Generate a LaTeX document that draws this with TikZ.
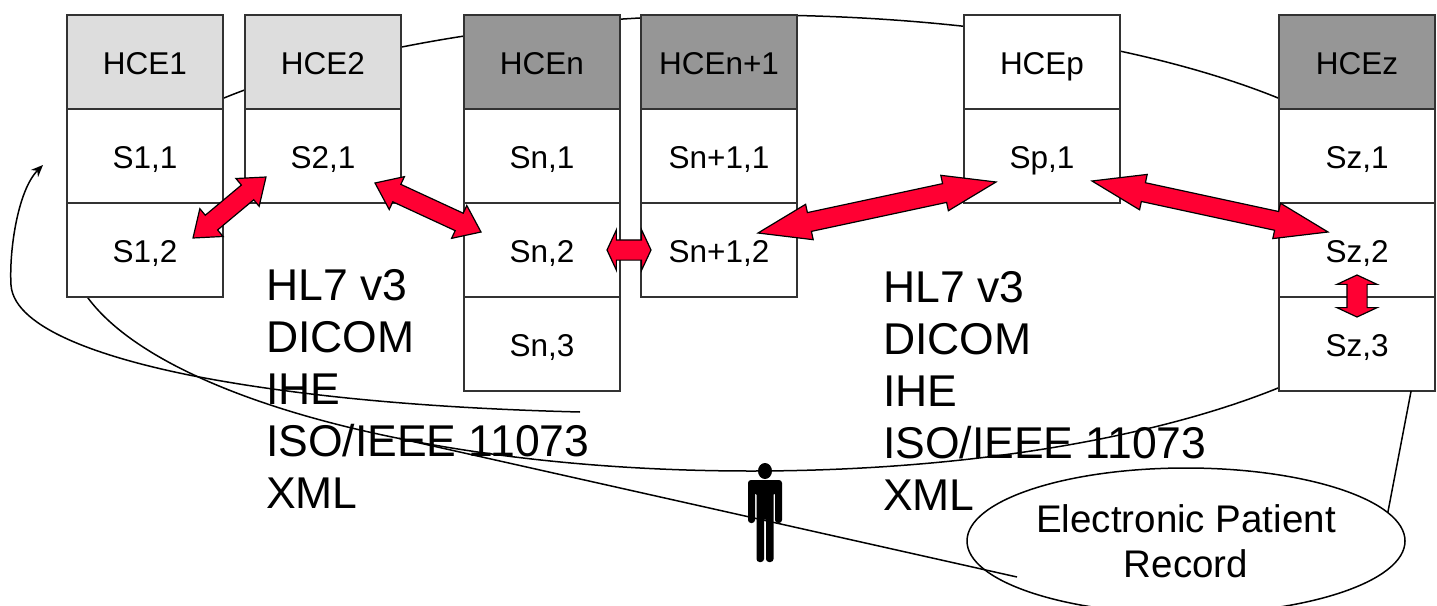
\documentclass[tikz,border=0pt]{standalone}
\usepackage{fontspec}
\setmainfont{Liberation Sans}
\usetikzlibrary{positioning,arrows.meta,calc,shapes.geometric,shapes.arrows}
\definecolor{HceLight}{RGB}{221,221,221}
\definecolor{HceDark}{RGB}{150,150,150}
\definecolor{LinkRed}{RGB}{255,0,51}
\definecolor{BoxLine}{RGB}{50,50,50}
\tikzset{
  wire/.style={draw=black,line width=1.5pt},
  slotbox/.style={draw=BoxLine,line width=1.3pt,fill=white,minimum width=156pt,minimum height=94pt,
    inner sep=0pt,outer sep=0pt,align=center,text height=25pt,text depth=0pt,font=\fontsize{31.5}{38}\selectfont},
  lightbox/.style={slotbox,fill=HceLight},
  darkbox/.style={slotbox,fill=HceDark},
  bigtext/.style={anchor=north west,inner sep=0pt,align=left,font=\fontsize{44.5}{52}\selectfont},
  redlink/.style={double arrow,draw=black,line width=1.2pt,fill=LinkRed,inner xsep=0pt,inner ysep=9pt,outer sep=0pt},
  longlink/.style={redlink,double arrow head extend=8.5pt,double arrow tip angle=38},
  shortlink/.style={redlink,double arrow head extend=8.5pt,double arrow tip angle=74},
  stublink/.style={redlink,inner ysep=9.5pt,double arrow head extend=10pt,double arrow tip angle=130}
}
\newcommand{\redarrow}[4]{\path let \p1=($(#4)-(#3)$),\n1={atan2(\y1,\x1)},\n2={veclen(\x1,\y1)} in
  node[#1,minimum height=\n2,rotate=\n1] (#2) at ($(#3)!.5!(#4)$) {};}
\begin{document}
\begin{tikzpicture}[x=1pt,y=-1pt]
  \useasboundingbox (0,0) rectangle (1437,605);
  \node[ellipse,wire,minimum width=1366pt,minimum height=456pt,inner sep=0pt,outer sep=0pt] (oval) at (751,243) {};
  % columns
  \node[lightbox] (hce1) at (145,62) {HCE1};
  \node[slotbox,below=0pt of hce1] (s11) {S1,1};
  \node[slotbox,below=0pt of s11] (s12) {S1,2};
  \node[lightbox,right=22pt of hce1] (hce2) {HCE2};
  \node[slotbox,below=0pt of hce2] (s21) {S2,1};
  \node[darkbox,right=63pt of hce2] (hcen) {HCEn};
  \node[slotbox,below=0pt of hcen] (sn1) {Sn,1};
  \node[slotbox,below=0pt of sn1] (sn2) {Sn,2};
  \node[slotbox,below=0pt of sn2] (sn3) {Sn,3};
  \node[darkbox,right=21pt of hcen] (hcem) {HCEn+1};
  \node[slotbox,below=0pt of hcem] (sm1) {Sn+1,1};
  \node[slotbox,below=0pt of sm1] (sm2) {Sn+1,2};
  \node[slotbox,right=167pt of hcem] (hcep) {HCEp};
  \node[slotbox,below=0pt of hcep] (sp1) {Sp,1};
  \node[darkbox,right=159pt of hcep] (hcez) {HCEz};
  \node[slotbox,below=0pt of hcez] (sz1) {Sz,1};
  \node[slotbox,below=0pt of sz1] (sz2) {Sz,2};
  \node[slotbox,below=0pt of sz2] (sz3) {Sz,3};
  % standards
  \node[bigtext] (stdleft) at (266,269) {HL7 v3\\DICOM\\IHE\\ISO/IEEE 11073\\XML};
  \node[bigtext] (stdright) at (883,271.5) {HL7 v3\\DICOM\\IHE\\ISO/IEEE 11073\\XML};
  % record
  \node[ellipse,wire,minimum width=438pt,minimum height=146pt,inner sep=0pt,outer sep=0pt,align=center,
    font=\fontsize{38.5}{45}\selectfont] (epr) at (1186,541) {Electronic Patient\\Record};
  \coordinate (eprend) at (1017,577);
  \coordinate (loopend) at (580,412);
  \coordinate (loopmid) at (189,375);
  \coordinate (loopbend) at (11,285);
  \coordinate (looptip) at (43,165);
  \draw[wire] (oval.209.2) -- (eprend);
  \draw[wire] (sz3.-41.8) -- (epr.8);
  \draw[wire,-{Stealth[length=12pt,width=10pt]}] (loopend) .. controls (420,408) and (290,395) .. (loopmid)
    .. controls (110,359) and (14,330) .. (loopbend) .. controls (9,250) and (18,190) .. (looptip);
  % red arrows
  \coordinate (a1) at (266,177);
  \coordinate (a2) at (193,238);
  \coordinate (b1) at (375,183);
  \coordinate (b2) at (481,232);
  \coordinate (c1) at (607,250);
  \coordinate (c2) at (651,250);
  \coordinate (d1) at (758,233);
  \coordinate (d2) at (996,182);
  \coordinate (e1) at (1092,181);
  \coordinate (e2) at (1328,232);
  \coordinate (f1) at (1357,275);
  \coordinate (f2) at (1357,317);
  \redarrow{shortlink}{linka}{a1}{a2}
  \redarrow{shortlink}{linkb}{b1}{b2}
  \redarrow{stublink}{linkc}{c1}{c2}
  \redarrow{longlink}{linkd}{d1}{d2}
  \redarrow{longlink}{linke}{e1}{e2}
  \redarrow{stublink}{linkf}{f1}{f2}
  % person
  \node[ellipse,fill=black,minimum width=14pt,minimum height=16pt,inner sep=0pt] (head) at (765,471) {};
  \fill[black,rounded corners=3pt] (748,523) -- (748,480) -- (782,480) -- (782,523) -- (775,523) -- (775,492)
    -- (773.5,492) -- (773.5,562) -- (766,562) -- (766,518) -- (764,518) -- (764,562) -- (756.5,562)
    -- (756.5,492) -- (755,492) -- (755,523) -- cycle;
\end{tikzpicture}
\end{document}
